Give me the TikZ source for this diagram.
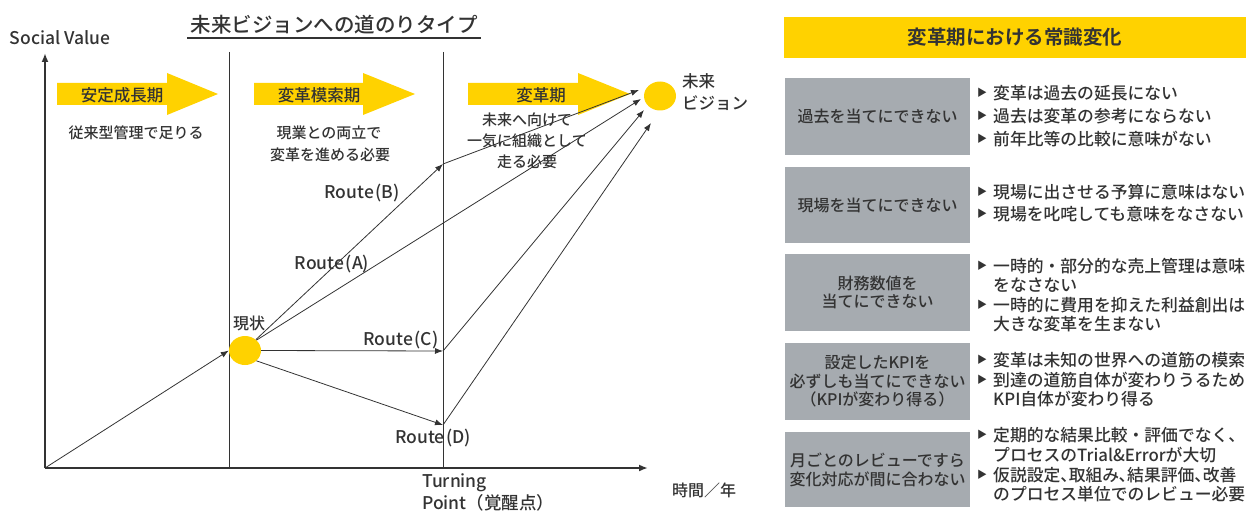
\documentclass[tikz,border=0pt]{standalone}
\usepackage{fontspec}
\setmainfont{Noto Sans CJK JP}[UprightFont={* Medium}, BoldFont={* Bold}]
\newfontfamily\jpalt{Noto Sans CJK JP}[UprightFont={* Medium}, RawFeature=+palt]
\usetikzlibrary{arrows.meta,shapes.geometric}
\definecolor{eyy}{HTML}{FFD200}
\definecolor{eyg}{HTML}{A6ABB0}
\definecolor{ink}{HTML}{333333}
\newcommand{\setfs}[1]{\fontsize{#1}{#1}\selectfont}
\begin{document}
\begin{tikzpicture}[x=1pt,y=-1pt,
  lbl/.style={inner sep=0pt, text=ink, font=\setfs{16}},
  rte/.style={inner sep=0pt, text=ink, font=\setfs{17.5}},
  small/.style={inner sep=0pt, text=ink, font=\setfs{15}},
  arr/.style={draw=ink, line width=0.8pt, -{Latex[length=8pt,width=6pt]}},
  seg/.style={draw=ink, line width=0.8pt},
  ax/.style={draw=ink, line width=2.4pt},
  dot/.style={ellipse, fill=eyy, minimum width=32pt, minimum height=29pt, inner sep=0pt},
  gbox/.style={fill=eyg, minimum width=185pt, inner sep=0pt, text=ink, font=\setfs{16}, align=center},
  btxt/.style={inner sep=0pt, text=ink, font=\setfs{16.8}, anchor=west},
  bmark/.style={inner sep=0pt, text=ink, font=\setfs{10}},
]
\useasboundingbox (0,0) rectangle (1254,511);

% ---------- title ----------
\node[inner sep=0pt, text=ink, font=\setfs{20.5}] (title) at (334,25) {未来ビジョンへの道のりタイプ};
\draw[ink, line width=1.8pt] (187,38) -- (481,38);
\node[rte] (sv) at (60,38) {Social Value};

% ---------- yellow arrows ----------
\fill[eyy] (57,83) -- (167,83) -- (167,73) -- (218,94) -- (167,115) -- (167,105) -- (57,105) -- cycle;
\fill[eyy] (254,83) -- (363,83) -- (363,73) -- (415,94) -- (363,115) -- (363,105) -- (254,105) -- cycle;
\fill[eyy] (468,83) -- (578,83) -- (578,73) -- (630,94) -- (578,115) -- (578,105) -- (468,105) -- cycle;
\node[lbl, font=\setfs{16.5}] (p1) at (122,95) {安定成長期};
\node[lbl, font=\setfs{16.5}] (p2) at (319,95) {変革模索期};
\node[lbl, font=\setfs{16.5}] (p3) at (541,95) {変革期};

% ---------- phase texts ----------
\node[small] (t1) at (136,133) {従来型管理で足りる};
\node[small] (t2a) at (329,133) {現業との両立で};
\node[small] (t2b) at (330,155) {変革を進める必要};
\node[small] (t3a) at (527,120) {未来へ向けて};
\node[small] (t3b) at (527,141) {一気に組織として};
\node[small] (t3c) at (527,162) {走る必要};

% ---------- axes and dividers ----------
\coordinate (O) at (45,468);
\coordinate (ytop) at (45,53);
\coordinate (xend) at (648,468);
\draw[ax, -{Latex[length=9pt,width=7pt]}] (O) -- (ytop);
\draw[ax, -{Latex[length=9pt,width=7pt]}] (O) -- (xend);
\draw[seg] (229,52) -- (229,468);
\draw[seg] (443,52) -- (443,468);

% ---------- circles ----------
\node[dot] (cur) at (245,350.5) {};
\node[dot] (fut) at (660,96) {};
\node[lbl] (curl) at (249,323) {現状};
\node[lbl, font=\setfs{16.5}, anchor=west] (futa) at (682,81) {未来};
\node[lbl, font=\setfs{16.5}, anchor=west] (futb) at (682,103) {ビジョン};

% ---------- route points ----------
\coordinate (tpB) at (443,164);
\coordinate (tpC) at (443,351);
\coordinate (tpD) at (443,425);
\coordinate (fB) at (639,90);
\coordinate (fA) at (641,99);
\coordinate (fC) at (644,110);
\coordinate (fD) at (651,123);

\draw[arr] (O) -- (cur.west);
\draw[arr] (cur.45) -- (tpB);
\draw[arr] (tpB) -- (fB);
\draw[arr] (cur.42) -- (fA);
\draw[arr] (cur.east) -- (tpC);
\draw[arr] (tpC) -- (fC);
\draw[arr] (cur.-42) -- (tpD);
\draw[arr] (tpD) -- (fD);

\node[rte] (rB) at (362,193) {Route\hspace{1.5pt}(B)};
\node[rte] (rA) at (332,264) {Route\hspace{1.5pt}(A)};
\node[rte] (rC) at (401,340) {Route\hspace{1.5pt}(C)};
\node[rte] (rD) at (433,438) {Route\hspace{1.5pt}(D)};

\node[rte, anchor=west] (tp1) at (422,483) {Turning};
\node[rte, anchor=west] (tp2) at (422,503) {Point（覚醒点）};
\node[lbl, anchor=west] (tl) at (672,490) {時間／年};

% ---------- right panel ----------
\node[fill=eyy, minimum width=462pt, minimum height=41pt, inner sep=0pt, text=ink, font=\setfs{19.5}\bfseries] (hdr) at (1015,37.5) {変革期における常識変化};

\node[gbox, minimum height=77pt] (g1) at (877.5,116.5) {過去を当てにできない};
\node[gbox, minimum height=76pt] (g2) at (877.5,205) {現場を当てにできない};
\node[gbox, minimum height=77pt] (g3) at (877.5,292.5) {財務数値を\\[2pt]当てにできない};
\node[gbox, minimum height=77pt] (g4) at (877.5,381.5) {設定したKPIを\\[2.5pt]必ずしも当てにできない\\[2.5pt]（KPIが変わり得る）};
\node[gbox, minimum height=75pt] (g5) at (877.5,469.5) {月ごとのレビューですら\\[3pt]変化対応が間に合わない};

\foreach \yy/\tt [count=\i] in {
  93/変革は過去の延長にない,
  116/過去は変革の参考にならない,
  139/前年比等の比較に意味がない,
  192/現場に出させる予算に意味はない,
  214/現場を叱咤しても意味をなさない,
  266/一時的・部分的な売上管理は意味,
  305/一時的に費用を抑えた利益創出は,
  360/変革は未知の世界への道筋の模索,
  380/到達の道筋自体が変わりうるため,
  435/定期的な結果比較・評価でなく、}
{
  \node[bmark] (bm\i) at (982,\yy) {▶};
  \node[btxt] (bt\i) at (993,\yy) {\tt};
}
\node[bmark] (bm11) at (982,475) {▶};
\node[btxt, font=\setfs{16.8}\jpalt] (bt11) at (993,475) {仮説設定、取組み、結果評価、改善};
\node[btxt] (c1) at (993,285) {をなさない};
\node[btxt] (c2) at (993,324) {大きな変革を生まない};
\node[btxt] (c3) at (993,399) {KPI自体が変わり得る};
\node[btxt] (c4) at (993,455) {プロセスのTrial\&Errorが大切};
\node[btxt] (c5) at (993,494) {のプロセス単位でのレビュー必要};
\end{tikzpicture}
\end{document}
